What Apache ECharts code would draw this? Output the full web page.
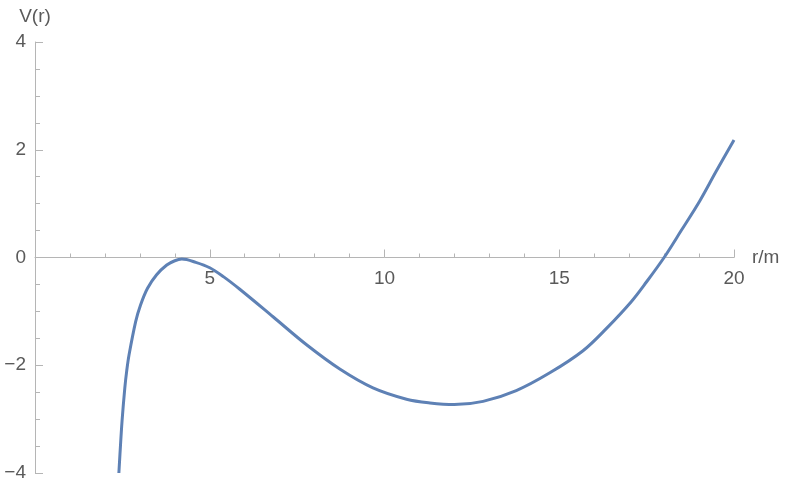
<!DOCTYPE html>
<html>
<head>
<meta charset="utf-8">
<script src="https://cdn.jsdelivr.net/npm/echarts@6/dist/echarts.min.js"></script>
<style>
  html, body { margin: 0; padding: 0; background: #fff; }
  #chart { width: 789px; height: 491px; }
</style>
</head>
<body>
<div id="chart"></div>
<script>
// values
var rValues = [2.40, 2.43, 2.49, 2.57, 2.625, 2.69, 2.88, 3.02, 3.22, 3.48, 3.77, 4.00, 4.20, 4.60, 5.00,
  5.40, 5.86, 6.81, 7.77, 8.72, 9.67, 10.63, 11.30, 12.00, 12.82, 13.77, 14.73, 15.68,
  16.36, 17.06, 17.50, 18.00, 18.49, 19.02, 19.49, 20.00];
var vValues = [-4.00, -3.66, -3.04, -2.42, -2.10, -1.81, -1.19, -0.88, -0.57, -0.32, -0.14, -0.06, -0.03, -0.09, -0.19,
  -0.36, -0.59, -1.10, -1.62, -2.07, -2.42, -2.63, -2.70, -2.73, -2.67, -2.47, -2.14, -1.73,
  -1.31, -0.82, -0.45, 0.00, 0.50, 1.05, 1.60, 2.18];

var xTicks = [0, 5, 10, 15, 20];
var yTicks = [-4, -2, 0, 2, 4];

var points = [];
for (var i = 0; i < rValues.length; i++) {
  points.push([rValues[i], vValues[i]]);
}

function fmt(v) {
  return v < 0 ? '\u2212' + Math.abs(v) : String(v);
}

var axisColor = '#b5b5b5';
var textColor = '#5a5a5a';
var fontFamily = '"Liberation Sans", Arial, sans-serif';

var W = 789, H = 491;
var gridTop = 42, gridBottom = 18;
var yMin = yTicks[0], yMax = yTicks[yTicks.length - 1];
// move the x axis up to V = 0
var xAxisOffset = -(H - gridTop - gridBottom) * (0 - yMin) / (yMax - yMin);

var myChart = echarts.init(document.getElementById('chart'));

var option = {
  animation: false,
  grid: { left: 35, right: 55, top: gridTop, bottom: gridBottom, outerBoundsMode: 'none', containLabel: false },
  xAxis: {
    type: 'value',
    min: xTicks[0],
    max: xTicks[xTicks.length - 1],
    interval: 5,
    position: 'bottom',
    offset: xAxisOffset,
    name: 'r/m',
    nameLocation: 'end',
    nameGap: 18,
    nameTextStyle: { color: textColor, fontSize: 19, fontFamily: fontFamily, verticalAlign: 'middle' },
    axisLine: { onZero: false, lineStyle: { color: axisColor, width: 1 } },
    axisTick: { inside: true, length: 8, lineStyle: { color: axisColor } },
    minorTick: { show: true, splitNumber: 5, length: 4, lineStyle: { color: axisColor } },
    splitLine: { show: false },
    axisLabel: {
      color: textColor, fontSize: 19, fontFamily: fontFamily, margin: 12,
      formatter: function (v) { return v === 0 ? '' : fmt(v); }
    }
  },
  yAxis: {
    type: 'value',
    min: yMin,
    max: yMax,
    interval: 2,
    name: 'V(r)',
    nameLocation: 'end',
    nameGap: 16,
    nameTextStyle: { color: textColor, fontSize: 19, fontFamily: fontFamily },
    axisLine: { show: true, onZero: false, lineStyle: { color: axisColor, width: 1 } },
    axisTick: { inside: true, length: 8, lineStyle: { color: axisColor } },
    minorTick: { show: true, splitNumber: 4, length: 5, lineStyle: { color: axisColor } },
    splitLine: { show: false },
    axisLabel: {
      color: textColor, fontSize: 19, fontFamily: fontFamily, margin: 9,
      formatter: function (v) { return fmt(v); }
    }
  },
  series: [{
    type: 'line',
    data: points,
    smooth: 0.35,
    showSymbol: false,
    lineStyle: { color: '#5e81b5', width: 3 },
    itemStyle: { color: '#5e81b5' }
  }]
};

myChart.setOption(option);
</script>
</body>
</html>
